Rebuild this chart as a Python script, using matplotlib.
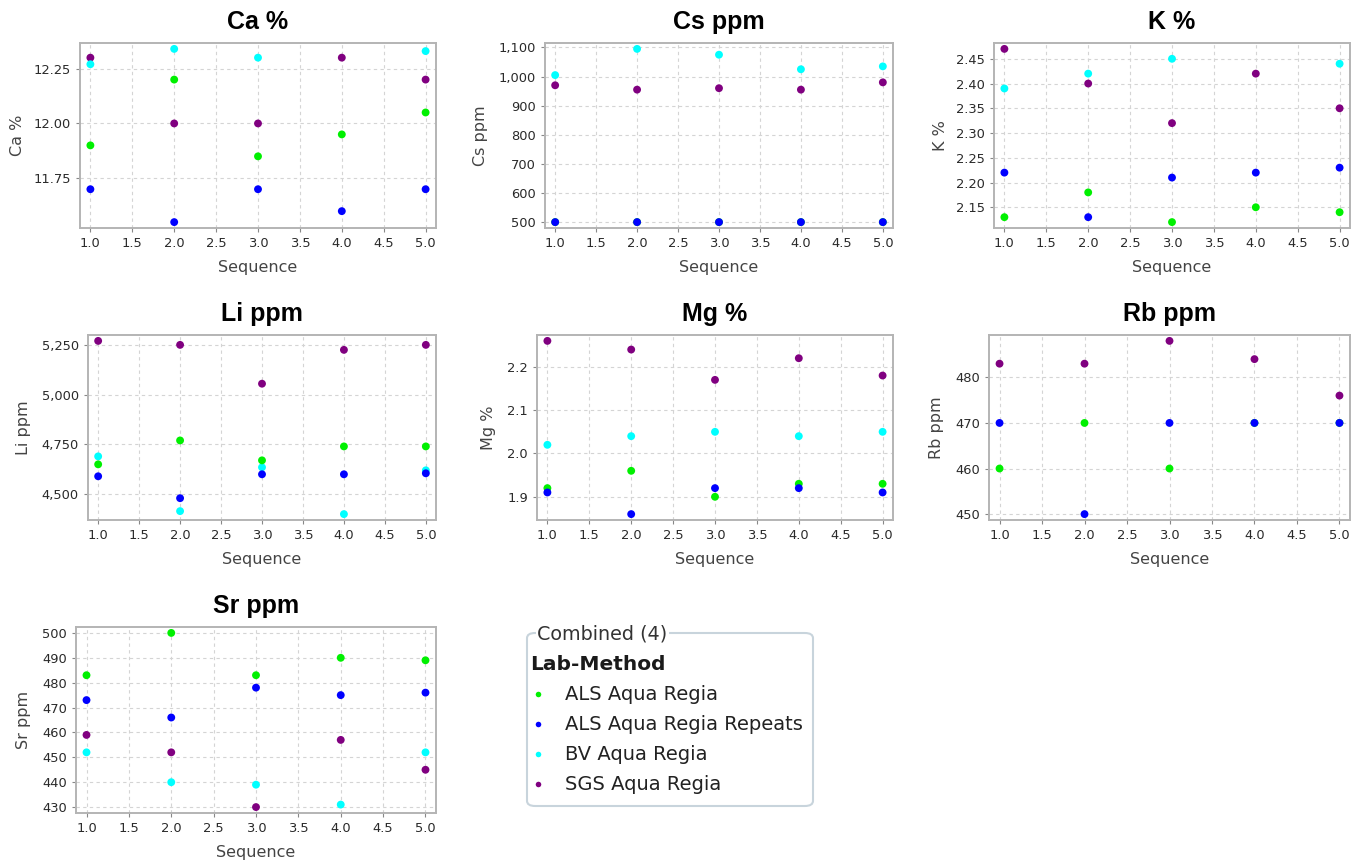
import matplotlib
matplotlib.use("Agg")
import matplotlib.pyplot as plt
from matplotlib.ticker import FuncFormatter, MultipleLocator, FixedLocator
from matplotlib.patches import FancyBboxPatch
from matplotlib.lines import Line2D
import numpy as np

# ---------------------------------------------------------------- data
sequence = [1, 2, 3, 4, 5]
lab_methods = ["ALS Aqua Regia", "ALS Aqua Regia Repeats", "BV Aqua Regia", "SGS Aqua Regia"]
method_colors = ["#00f000", "#0000ff", "#00ffff", "#800080"]
nan = np.nan

# one row per lab-method, in the order of lab_methods
ca_pct = [[11.90, 12.20, 11.85, 11.95, 12.05],
          [11.70, 11.55, 11.70, 11.60, 11.70],
          [12.27, 12.34, 12.30, nan, 12.33],
          [12.30, 12.00, 12.00, 12.30, 12.20]]
cs_ppm = [[500, 500, 500, 500, 500],
          [500, 500, 500, 500, 500],
          [1005, 1095, 1075, 1025, 1035],
          [970, 955, 960, 955, 980]]
k_pct = [[2.13, 2.18, 2.12, 2.15, 2.14],
         [2.22, 2.13, 2.21, 2.22, 2.23],
         [2.39, 2.42, 2.45, nan, 2.44],
         [2.47, 2.40, 2.32, 2.42, 2.35]]
li_ppm = [[4650, 4770, 4670, 4740, 4740],
          [4590, 4480, 4600, 4600, 4605],
          [4690, 4415, 4635, 4400, 4620],
          [5270, 5250, 5055, 5225, 5250]]
mg_pct = [[1.92, 1.96, 1.90, 1.93, 1.93],
          [1.91, 1.86, 1.92, 1.92, 1.91],
          [2.02, 2.04, 2.05, 2.04, 2.05],
          [2.26, 2.24, 2.17, 2.22, 2.18]]
rb_ppm = [[460, 470, 460, 470, 470],
          [470, 450, 470, 470, 470],
          [nan, nan, nan, nan, nan],
          [483, 483, 488, 484, 476]]
sr_ppm = [[483, 500, 483, 490, 489],
          [473, 466, 478, 475, 476],
          [452, 440, 439, 431, 452],
          [459, 452, 430, 457, 445]]

titles = ["Ca %", "Cs ppm", "K %", "Li ppm", "Mg %", "Rb ppm", "Sr ppm"]
values = [ca_pct, cs_ppm, k_pct, li_ppm, mg_pct, rb_ppm, sr_ppm]
y_ticks = [[11.75, 12.00, 12.25],
           [500, 600, 700, 800, 900, 1000, 1100],
           [2.15, 2.20, 2.25, 2.30, 2.35, 2.40, 2.45],
           [4500, 4750, 5000, 5250],
           [1.9, 2.0, 2.1, 2.2],
           [450, 460, 470, 480],
           [430, 440, 450, 460, 470, 480, 490, 500]]
y_formats = ["{:.2f}", "{:,.0f}", "{:.2f}", "{:,.0f}", "{:.1f}", "{:.0f}", "{:.0f}"]
x_label = "Sequence"
legend_heading = "Combined (4)"
legend_title = "Lab-Method"

# ---------------------------------------------------------------- layout (pixels)
W, H = 1359, 865
# left, top, right, bottom of each plot area, and right edge of its y label
boxes = [(80, 43, 436, 228), (545, 43, 893, 228), (994, 43, 1350, 228),
         (88, 335, 436, 520), (537, 335, 893, 520), (989, 335, 1350, 520),
         (76, 627, 436, 813)]
ylabel_right = [25, 488, 948, 31, 496, 944, 31]
draw_order = [3, 2, 0, 1]  # SGS underneath, repeats on top

fig = plt.figure(figsize=(W / 100, H / 100), dpi=100)
fig.patch.set_facecolor("white")

tick_color = "#2a2a2a"
label_color = "#444444"
frame_color = "#b4b4b4"
grid_color = "#d4d4d4"

for i, (title, vals) in enumerate(zip(titles, values)):
    l, t, r, b = boxes[i]
    ax = fig.add_axes([l / W, 1 - b / H, (r - l) / W, (b - t) / H])
    for k in draw_order:
        ax.scatter(sequence, vals[k], s=32, color=method_colors[k],
                   edgecolors="none", zorder=3 + draw_order.index(k),
                   label=lab_methods[k])
    ax.margins(x=0.031, y=0.034)

    ax.xaxis.set_major_locator(MultipleLocator(0.5))
    ax.xaxis.set_major_formatter(FuncFormatter(lambda v, p: f"{v:.1f}"))
    ax.yaxis.set_major_locator(FixedLocator(y_ticks[i]))
    fmt = y_formats[i]
    ax.yaxis.set_major_formatter(FuncFormatter(lambda v, p, fmt=fmt: fmt.format(v)))

    ax.grid(True, color=grid_color, linestyle=(0, (3, 3)), linewidth=0.8)
    ax.set_axisbelow(True)
    for sp in ax.spines.values():
        sp.set_color(frame_color)
        sp.set_linewidth(1.4)
    ax.tick_params(axis="both", direction="out", length=3, width=0.8,
                   color="#888888", labelcolor=tick_color, labelsize=9.4, pad=3.5)

    ax.set_title(title, fontsize=18, fontweight="bold", family="Liberation Sans",
                 pad=10, color="black")
    ax.set_xlabel(x_label, fontsize=11.5, color=label_color, labelpad=7)
    ax.set_ylabel(title, fontsize=11.5, color=label_color)
    ax.yaxis.set_label_coords((ylabel_right[i] - l) / (r - l), 0.5)

# ---------------------------------------------------------------- legend panel
lx0, ly0, lx1, ly1 = 527, 633, 813, 806
frame = FancyBboxPatch((lx0 / W, 1 - ly1 / H), (lx1 - lx0) / W, (ly1 - ly0) / H,
                       boxstyle="round,pad=0,rounding_size=0.006",
                       transform=fig.transFigure, facecolor="white",
                       edgecolor="#c8d4dc", linewidth=1.5, zorder=1)
fig.add_artist(frame)
fig.text(537 / W, 1 - 634 / H, legend_heading, fontsize=13.8, color="#333333",
         ha="left", va="center", zorder=3,
         bbox=dict(facecolor="white", edgecolor="none", pad=1))
fig.text(530 / W, 1 - 665 / H, legend_title, fontsize=14.5, fontweight="bold",
         color="#1a1a1a", ha="left", va="center", zorder=3)
for j, (name, col) in enumerate(zip(lab_methods, method_colors)):
    yc = 1 - (694 + 30 * j) / H
    fig.add_artist(Line2D([538 / W], [yc], marker="o", markersize=4,
                          color=col, markeredgewidth=0, linestyle="none",
                          transform=fig.transFigure, zorder=3))
    fig.text(565 / W, yc, name, fontsize=14, color="#222222",
             ha="left", va="center", zorder=3)

fig.savefig("out.png", dpi=100, facecolor="white")
